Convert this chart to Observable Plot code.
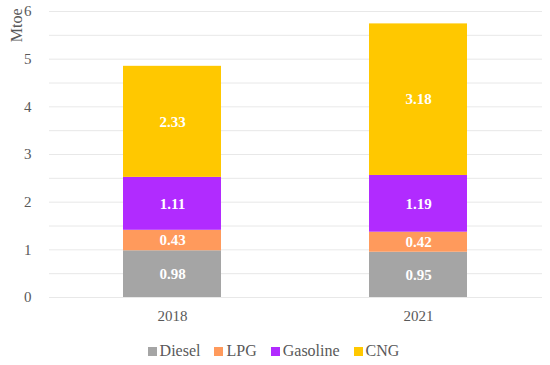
<!DOCTYPE html>
<html>
<head>
<meta charset="utf-8">
<script src="https://cdn.jsdelivr.net/npm/d3@7"></script>
<script src="https://cdn.jsdelivr.net/npm/@observablehq/plot@0.6"></script>
<style>
  body { margin: 0; background: #fff; }
  #chart { width: 550px; font-family: 'Liberation Serif', 'DejaVu Serif', serif; }
  #chart svg text { font-family: 'Liberation Serif', 'DejaVu Serif', serif; }
  .legend { display: flex; justify-content: center; gap: 14px; font-size: 16px; color: #595959; height: 30px; align-items: center; margin-left: -3px; margin-top: 1px; }
  .legend span.sw { display: inline-block; width: 9px; height: 9px; margin-right: 3px; }
</style>
</head>
<body>
<div id="chart"></div>
<script>
const years = ["2018", "2021"];
const fuels = ["Diesel", "LPG", "Gasoline", "CNG"];
const colors = ["#a5a5a5", "#ff9a5c", "#b12bff", "#ffc800"];
const values2018 = [0.98, 0.43, 1.11, 2.33];
const values2021 = [0.95, 0.42, 1.19, 3.18];
const yTicks = [0, 1, 2, 3, 4, 5, 6];
const gridTicks = [0, 0.5, 1, 1.5, 2, 2.5, 3, 3.5, 4, 4.5, 5, 5.5, 6];

const series = [values2018, values2021];
const data = [];
years.forEach((yr, i) => fuels.forEach((f, j) => data.push({year: yr, fuel: f, value: series[i][j]})));

const plot = Plot.plot({
  width: 550,
  height: 335,
  marginLeft: 49,
  marginRight: 8,
  marginTop: 11,
  marginBottom: 38,
  style: {fontFamily: "'Liberation Serif', 'DejaVu Serif', serif", fontSize: "14px", color: "#595959"},
  x: {domain: years, paddingInner: 0.6, paddingOuter: 0.3, label: null},
  y: {domain: [0, 6], label: null},
  color: {domain: fuels, range: colors},
  marks: [
    Plot.gridY(gridTicks, {stroke: "#d9d9d9", strokeOpacity: 0.6, strokeWidth: 1}),
    Plot.axisY(yTicks, {tickSize: 0, tickPadding: 18, fontSize: 15, label: null}),
    Plot.axisX({tickSize: 0, tickPadding: 13, fontSize: 15, label: null}),
    Plot.text(["Mtoe"], {frameAnchor: "top-left", dx: -39, dy: -3, rotate: -90, textAnchor: "end", fontSize: 16, fill: "#595959"}),
    Plot.barY(data, Plot.stackY({x: "year", y: "value", fill: "fuel", order: fuels})),
    Plot.text(data, Plot.stackY({x: "year", y: "value", z: "fuel", order: fuels, text: d => d.value.toFixed(2), fill: "white", fontWeight: "bold", fontSize: 15}))
  ]
});
document.getElementById("chart").appendChild(plot);

const legend = document.createElement("div");
legend.className = "legend";
fuels.forEach((f, i) => {
  const item = document.createElement("div");
  item.innerHTML = `<span class="sw" style="background:${colors[i]}"></span>${f}`;
  legend.appendChild(item);
});
document.getElementById("chart").appendChild(legend);
</script>
</body>
</html>
